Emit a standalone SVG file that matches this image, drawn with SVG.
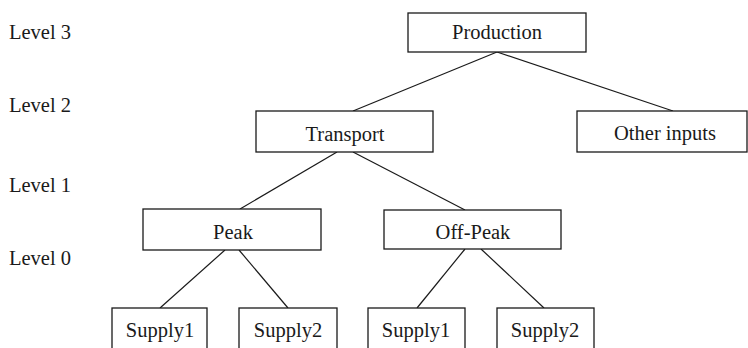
<svg xmlns="http://www.w3.org/2000/svg" width="748" height="348" viewBox="0 0 748 348">
  <style>
    .box { fill: #ffffff; stroke: #1a1a1a; stroke-width: 1.3; }
    .edge { stroke: #1a1a1a; stroke-width: 1.2; fill: none; }
    text { font-family: "Liberation Serif", "Times New Roman", serif; font-size: 20.5px; fill: #1a1a1a; }
    .c { text-anchor: middle; }
  </style>
  <rect width="748" height="348" fill="#ffffff"/>

  <!-- level labels -->
  <g id="levels">
    <text x="9" y="39">Level 3</text>
    <text x="9" y="112">Level 2</text>
    <text x="9" y="192">Level 1</text>
    <text x="9" y="265">Level 0</text>
  </g>

  <!-- connectors -->
  <g id="connectors">
    <line class="edge" x1="497" y1="52" x2="353" y2="111"/>
    <line class="edge" x1="497" y1="52" x2="673" y2="111"/>
    <line class="edge" x1="337" y1="152" x2="240" y2="209"/>
    <line class="edge" x1="353" y1="152" x2="465" y2="210"/>
    <line class="edge" x1="225" y1="250" x2="160" y2="308"/>
    <line class="edge" x1="239" y1="250" x2="288" y2="308"/>
    <line class="edge" x1="465" y1="249" x2="417" y2="308"/>
    <line class="edge" x1="481" y1="249" x2="544" y2="308"/>
  </g>

  <g id="production">
    <rect class="box" x="408" y="13" width="178" height="39"/>
    <text class="c" x="497" y="39">Production</text>
  </g>
  <g id="transport">
    <rect class="box" x="256" y="111" width="177" height="41"/>
    <text class="c" x="345" y="141">Transport</text>
  </g>
  <g id="other-inputs">
    <rect class="box" x="577" y="111" width="170" height="41"/>
    <text class="c" x="665" y="140">Other inputs</text>
  </g>
  <g id="peak">
    <rect class="box" x="143" y="209" width="178" height="41"/>
    <text class="c" x="233" y="239">Peak</text>
  </g>
  <g id="off-peak">
    <rect class="box" x="384" y="210" width="177" height="39"/>
    <text class="c" x="473" y="239">Off-Peak</text>
  </g>
  <g id="peak-supply1">
    <rect class="box" x="112" y="308" width="95" height="60"/>
    <text class="c" x="160" y="337">Supply1</text>
  </g>
  <g id="peak-supply2">
    <rect class="box" x="239" y="308" width="98" height="60"/>
    <text class="c" x="288" y="337">Supply2</text>
  </g>
  <g id="offpeak-supply1">
    <rect class="box" x="368" y="308" width="97" height="60"/>
    <text class="c" x="416" y="337">Supply1</text>
  </g>
  <g id="offpeak-supply2">
    <rect class="box" x="497" y="308" width="97" height="60"/>
    <text class="c" x="545" y="337">Supply2</text>
  </g>
</svg>
